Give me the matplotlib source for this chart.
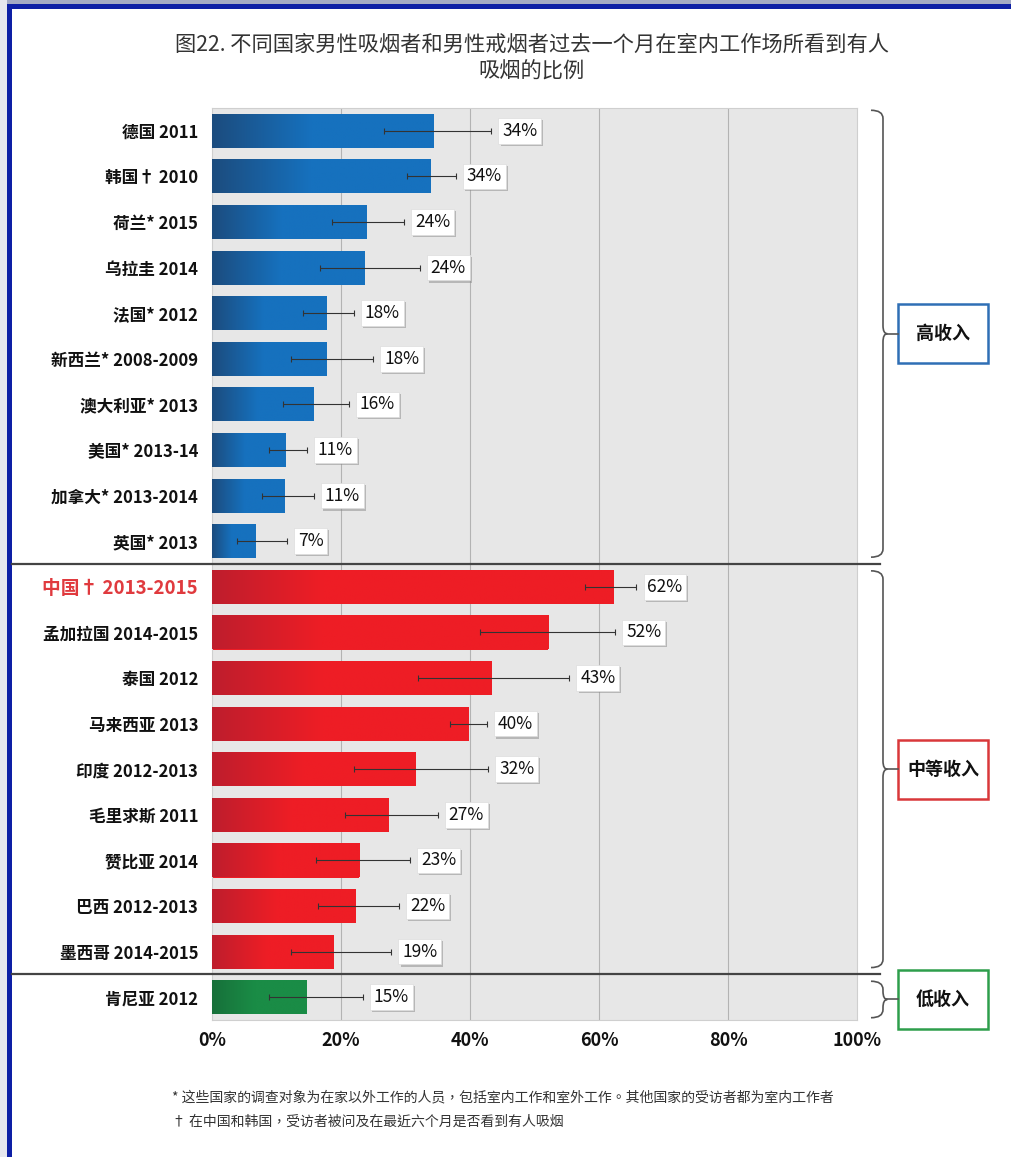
import numpy as np
import matplotlib
matplotlib.use("Agg")
import matplotlib.pyplot as plt
import matplotlib.patheffects as pe
from matplotlib.patches import Rectangle, PathPatch
from matplotlib.path import Path
from matplotlib.transforms import blended_transform_factory
from matplotlib.colors import to_rgb

plt.rcParams['font.family'] = ['Noto Sans CJK SC', 'DejaVu Sans']

# survey / country labels, top to bottom
countries = ['德国 2011', '韩国† 2010', '荷兰* 2015', '乌拉圭 2014', '法国* 2012',
             '新西兰* 2008-2009', '澳大利亚* 2013', '美国* 2013-14', '加拿大* 2013-2014',
             '英国* 2013', '中国† 2013-2015', '孟加拉国 2014-2015', '泰国 2012',
             '马来西亚 2013', '印度 2012-2013', '毛里求斯 2011', '赞比亚 2014',
             '巴西 2012-2013', '墨西哥 2014-2015', '肯尼亚 2012']
# percent seeing smoking at indoor workplace, with 95% CI
values = [34.4, 33.8, 23.9, 23.7, 17.8, 17.8, 15.7, 11.4, 11.2, 6.8,
          62.2, 52.1, 43.3, 39.7, 31.6, 27.3, 22.8, 22.2, 18.9, 14.7]
ci_low = [26.7, 30.2, 18.6, 16.7, 14.1, 12.2, 11.0, 8.8, 7.8, 3.9,
          57.9, 41.5, 31.9, 36.9, 22.0, 20.6, 16.1, 16.4, 12.2, 8.8]
ci_high = [43.3, 37.8, 29.8, 32.2, 22.0, 25.0, 21.2, 14.7, 15.8, 11.6,
           65.8, 62.5, 55.4, 42.6, 42.8, 35.0, 30.7, 29.0, 27.8, 23.4]
income = ['high'] * 10 + ['middle'] * 9 + ['low']

group_names = {'high': '高收入', 'middle': '中等收入', 'low': '低收入'}
bar_colors = {'high': ('#1c4c7e', '#1671be'),
              'middle': ('#be1e2d', '#ee1d25'),
              'low': ('#17703a', '#1a8c46')}
box_colors = {'high': '#2f6fb5', 'middle': '#d9383a', 'low': '#2e9e4c'}

xticks = [0, 20, 40, 60, 80, 100]

W, H = 1011, 1157
fig = plt.figure(figsize=(W / 100, H / 100), dpi=100)
fig.patch.set_facecolor('white')

# frame around the slide
bg = fig.add_axes([0, 0, 1, 1], zorder=-1)
bg.set_xlim(0, W)
bg.set_ylim(H, 0)
bg.axis('off')
bg.add_patch(Rectangle((0, 0), W, 5, color='#a4aac4', lw=0))
bg.add_patch(Rectangle((0, 0), 7, H, color='#e6e7ee', lw=0))
bg.add_patch(Rectangle((7, 4), W, 5, color='#0d1fa5', lw=0))
bg.add_patch(Rectangle((7, 4), 5, H, color='#0d1fa5', lw=0))

ax = fig.add_axes([212 / W, 1 - 1020 / H, 645 / W, 912 / H])
ax.set_facecolor('#e7e7e7')
for s in ax.spines.values():
    s.set_color('#cfcfcf')
    s.set_linewidth(0.8)

n = len(countries)
ypos = np.arange(n)
h = 0.75

for y, v, grp in zip(ypos, values, income):
    dark, light = [np.array(to_rgb(c)) for c in bar_colors[grp]]
    bar = ax.barh(y, v, height=h, color=light, edgecolor='none', zorder=2)[0]
    xs = np.linspace(0, v, 200)
    gw = min(0.45 * v, 17)
    t = np.clip(xs / gw, 0, 1)[:, None]
    rgb = dark * (1 - t) + light * t
    img = ax.imshow(rgb[None, :, :], extent=(0, v, y + h / 2, y - h / 2),
                    aspect='auto', interpolation='bilinear', zorder=3)
    img.set_clip_path(bar)

vals = np.array(values)
xerr = [vals - np.array(ci_low), np.array(ci_high) - vals]
ax.errorbar(vals, ypos, xerr=xerr, fmt='none', ecolor='#333333',
            elinewidth=0.8, capsize=2, capthick=0.8, zorder=4)

for y, v, hi in zip(ypos, values, ci_high):
    t = ax.text(hi + 1.7, y, f'{v:.0f}%', ha='left', va='center', fontsize=12.5,
                color='#111111', zorder=6,
                bbox=dict(boxstyle='square,pad=0.22', fc='white', ec='#dddddd', lw=0.5))
    t.get_bbox_patch().set_path_effects(
        [pe.withSimplePatchShadow(offset=(1.5, -1.5), shadow_rgbFace='#888888', alpha=0.5)])

ax.set_xlim(0, 100)
ax.set_ylim(n - 0.5, -0.5)
ax.set_xticks(xticks)
ax.set_xticklabels([f'{x}%' for x in xticks], fontsize=13, fontweight='bold', color='#111111')
ax.set_yticks(ypos)
ax.set_yticklabels(countries, fontsize=12, fontweight='bold', color='#111111')
ax.tick_params(axis='both', length=0)
ax.tick_params(axis='y', pad=10)
ax.tick_params(axis='x', pad=8)
china = ax.get_yticklabels()[10]
china.set_color('#e03a3e')
china.set_fontsize(13.5)

ax.set_axisbelow(True)
for x in xticks[1:-1]:
    ax.axvline(x, color='#b3b3b3', lw=0.8, zorder=1)

# separators between income groups and the braces on the right
tr = blended_transform_factory(ax.transAxes, ax.transData)
groups = []
for grp in ['high', 'middle', 'low']:
    rows = [i for i, g in enumerate(income) if g == grp]
    groups.append((grp, rows[0], rows[-1]))

for grp, first, last in groups[1:]:
    ax.plot([-0.31, 1.036], [first - 0.5, first - 0.5], color='#444444', lw=1.6,
            transform=tr, clip_on=False, zorder=7)

x_hook, x_v, x_tip, x_box = 1.0217, 1.0403, 1.047, 1.0636
for grp, first, last in groups:
    top = first - 0.5 + (0.05 if first == 0 else 0.15)
    bot = last + 0.5 - (0.05 if last == n - 1 else 0.15)
    mid = (top + bot) / 2
    r = 0.18
    verts = [(x_hook, top), (x_v, top), (x_v, top + r),
             (x_v, mid - r), (x_v, mid), (x_tip, mid),
             (x_v, mid), (x_v, mid + r),
             (x_v, bot - r), (x_v, bot), (x_hook, bot)]
    codes = [Path.MOVETO, Path.CURVE3, Path.CURVE3,
             Path.LINETO, Path.CURVE3, Path.CURVE3,
             Path.CURVE3, Path.CURVE3,
             Path.LINETO, Path.CURVE3, Path.CURVE3]
    ax.add_patch(PathPatch(Path(verts, codes), fc='none', ec='#555555', lw=1.2,
                           transform=tr, clip_on=False))
    ax.plot([x_tip, x_box], [mid, mid], color='#555555', lw=1.2,
            transform=tr, clip_on=False)
    bw = 90 / 645
    bh = 1.3
    ax.add_patch(Rectangle((x_box, mid - bh / 2), bw, bh, fc='white',
                           ec=box_colors[grp], lw=1.8, transform=tr, clip_on=False))
    ax.text(x_box + bw / 2, mid, group_names[grp], ha='center', va='center',
            fontsize=13, fontweight='bold', color='#111111', transform=tr)

fig.text(532 / W, 1 - 45 / H, '图22. 不同国家男性吸烟者和男性戒烟者过去一个月在室内工作场所看到有人',
         ha='center', va='center', fontsize=15.3, color='#333333')
fig.text(532 / W, 1 - 72 / H, '吸烟的比例', ha='center', va='center',
         fontsize=15.3, color='#333333')

note_font = ['Noto Sans CJK TC', 'DejaVu Sans']
fig.text(172 / W, 1 - 1097 / H,
         '* 这些国家的调查对象为在家以外工作的人员，包括室内工作和室外工作。其他国家的受访者都为室内工作者',
         ha='left', va='center', fontsize=10, color='#333333', family=note_font)
fig.text(172 / W, 1 - 1122 / H,
         '† 在中国和韩国，受访者被问及在最近六个月是否看到有人吸烟',
         ha='left', va='center', fontsize=10, color='#333333', family=note_font)

fig.savefig('out.png', dpi=100)
